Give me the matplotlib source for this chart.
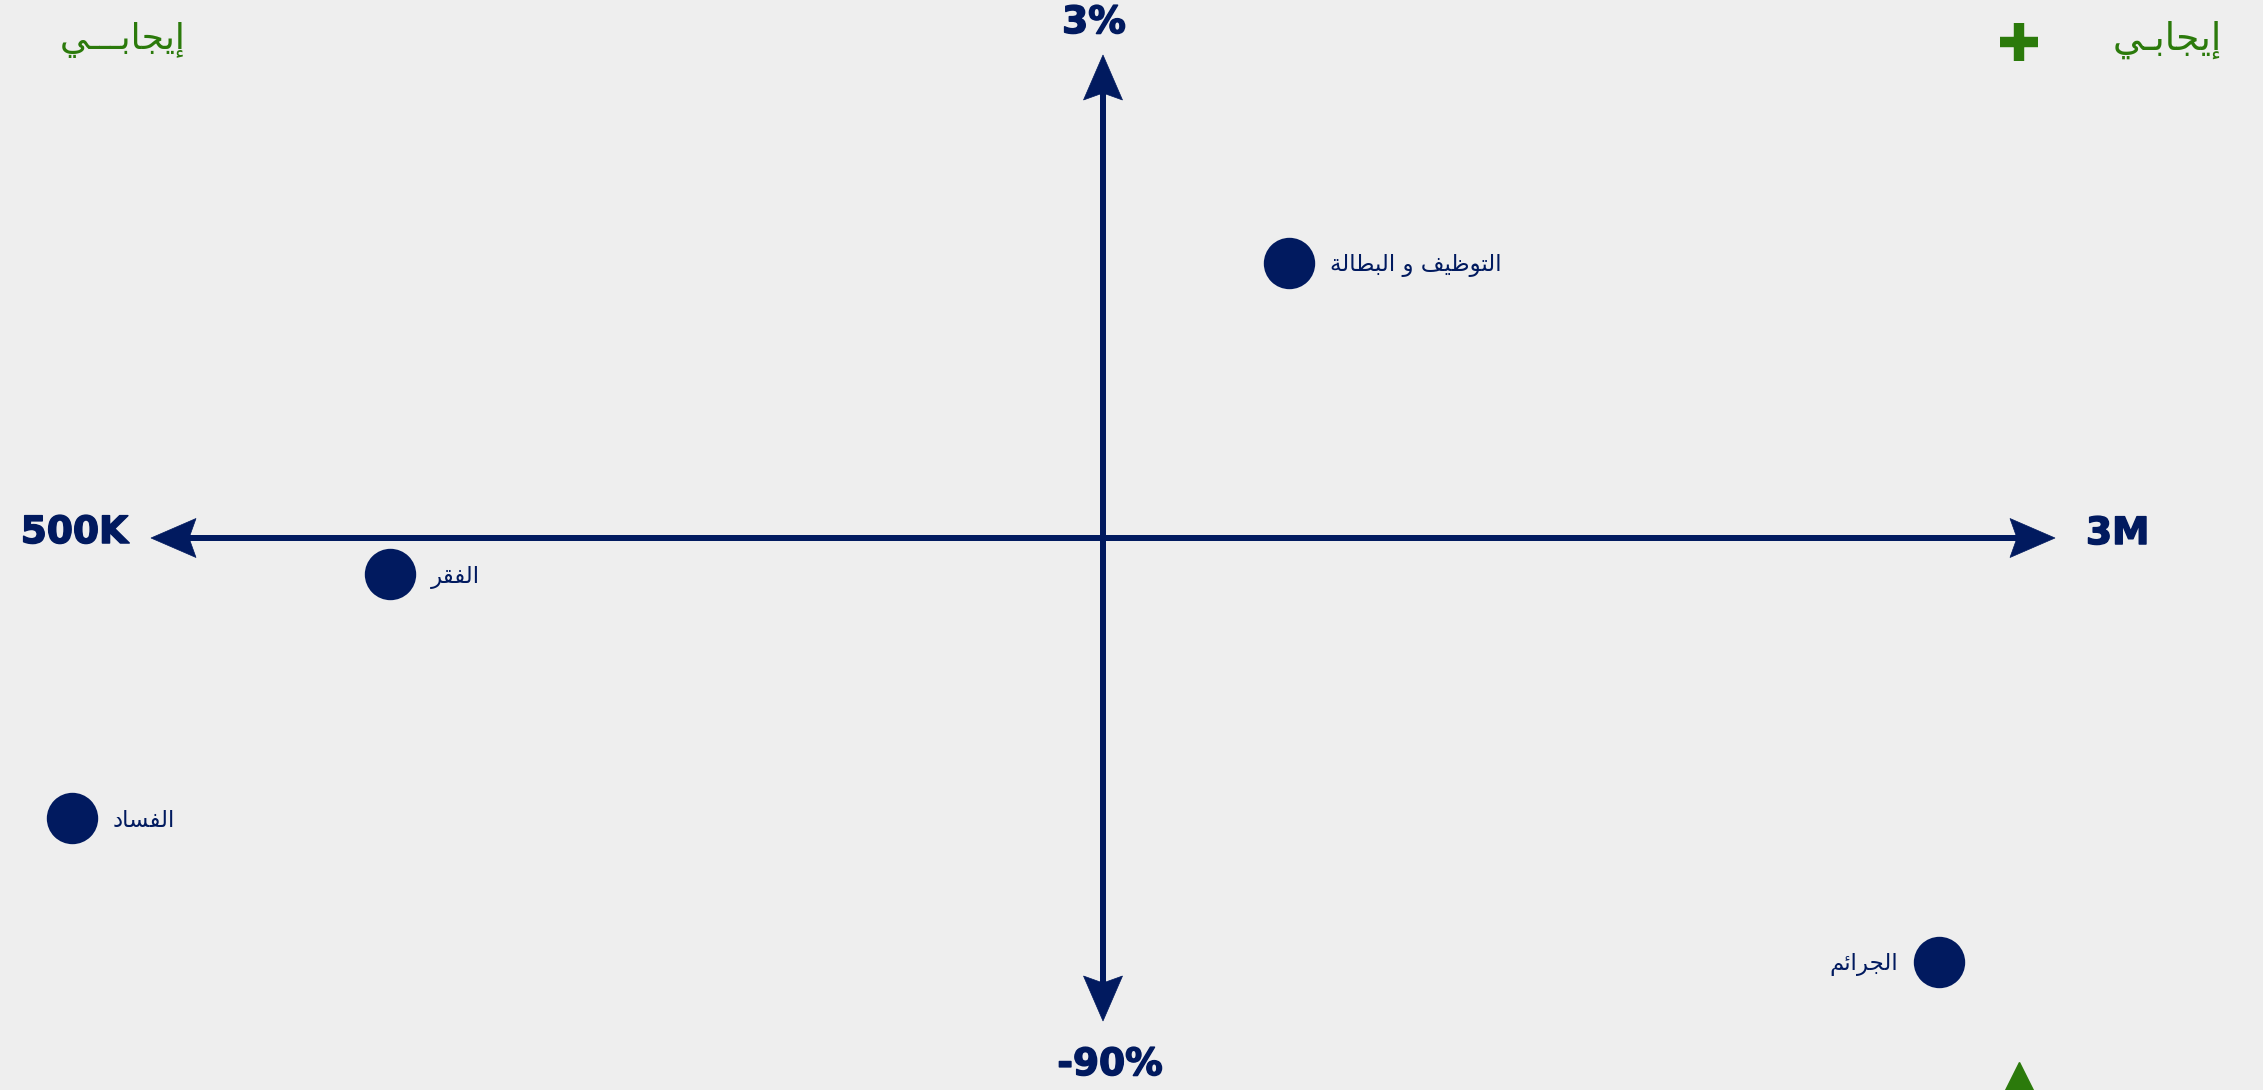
import matplotlib
matplotlib.use("Agg")
import matplotlib.pyplot as plt
from matplotlib.patches import Polygon
import matplotlib.patheffects as pe

# ---------------- data ----------------
topics = ["التوظيف و البطالة", "الفقر", "الفساد", "الجرائم"]
x_vals = [0.195, -0.749, -1.083, 0.878]     # normalised position on horizontal axis (-1 .. 1)
y_vals = [0.569, -0.075, -0.580, -0.878]    # normalised position on vertical axis (-1 .. 1)
label_side = ["right", "right", "right", "left"]
x_axis_labels = ["500K", "3M"]
y_axis_labels = ["-90%", "3%"]
corner_labels = ["إيجابـــي", "إيجابـي"]

NAVY = "#011a5f"
GREEN = "#2b7a0b"
BG = "#eeeeee"

# ------------- arabic shaping (presentation forms) -------------
AR = {
    '\u0625': ('\uFE87', '\uFE88', None, None),
    '\u0626': ('\uFE89', '\uFE8A', '\uFE8B', '\uFE8C'),
    '\u0627': ('\uFE8D', '\uFE8E', None, None),
    '\u0628': ('\uFE8F', '\uFE90', '\uFE91', '\uFE92'),
    '\u0629': ('\uFE93', '\uFE94', None, None),
    '\u062A': ('\uFE95', '\uFE96', '\uFE97', '\uFE98'),
    '\u062C': ('\uFE9D', '\uFE9E', '\uFE9F', '\uFEA0'),
    '\u062F': ('\uFEA9', '\uFEAA', None, None),
    '\u0631': ('\uFEAD', '\uFEAE', None, None),
    '\u0633': ('\uFEB1', '\uFEB2', '\uFEB3', '\uFEB4'),
    '\u0637': ('\uFEC1', '\uFEC2', '\uFEC3', '\uFEC4'),
    '\u0638': ('\uFEC5', '\uFEC6', '\uFEC7', '\uFEC8'),
    '\u0641': ('\uFED1', '\uFED2', '\uFED3', '\uFED4'),
    '\u0642': ('\uFED5', '\uFED6', '\uFED7', '\uFED8'),
    '\u0644': ('\uFEDD', '\uFEDE', '\uFEDF', '\uFEE0'),
    '\u0645': ('\uFEE1', '\uFEE2', '\uFEE3', '\uFEE4'),
    '\u0648': ('\uFEED', '\uFEEE', None, None),
    '\u064A': ('\uFEF1', '\uFEF2', '\uFEF3', '\uFEF4'),
}
TATWEEL = '\u0640'
LAMALEF = {'\u0627': ('\uFEFB', '\uFEFC'), '\u0625': ('\uFEF9', '\uFEFA'),
           '\u0623': ('\uFEF7', '\uFEF8'), '\u0622': ('\uFEF5', '\uFEF6')}


def shape(s):
    out = []
    i = 0
    prev_left = False
    while i < len(s):
        c = s[i]
        if c == TATWEEL:
            out.append(c)
            prev_left = True
            i += 1
            continue
        if c not in AR:
            out.append(c)
            prev_left = False
            i += 1
            continue
        nxt = s[i + 1] if i + 1 < len(s) else None
        if c == '\u0644' and nxt in LAMALEF:
            out.append(LAMALEF[nxt][1 if prev_left else 0])
            prev_left = False
            i += 2
            continue
        iso, fin, ini, med = AR[c]
        can_left = ini is not None and nxt is not None and (nxt in AR or nxt == TATWEEL)
        if prev_left and can_left:
            f = med
        elif prev_left:
            f = fin
        elif can_left:
            f = ini
        else:
            f = iso
        out.append(f)
        prev_left = ini is not None
        i += 1
    return ''.join(reversed(out))


# ---------------- figure ----------------
W, H, DPI = 2263, 1090, 100
fig = plt.figure(figsize=(W / DPI, H / DPI), dpi=DPI, facecolor=BG)
ax = fig.add_axes([0, 0, 1, 1])
ax.set_facecolor(BG)
ax.axis("off")

PX_X = 952.0   # pixels per unit along x
PX_Y = 483.0   # pixels per unit along y
CX, CY = 1103.0, 538.0
ax.set_xlim(-CX / PX_X, (W - CX) / PX_X)
ax.set_ylim(-(H - CY) / PX_Y, CY / PX_Y)

LW = 6 * 72 / DPI
HEAD_L, HEAD_W, NOTCH = 45, 19.5, 7


def arrow_head(tip_x, tip_y, dx, dy):
    px, py = -dy, dx
    pts_px = [(0, 0),
              (-dx * HEAD_L + px * HEAD_W, -dy * HEAD_L + py * HEAD_W),
              (-dx * (HEAD_L - NOTCH), -dy * (HEAD_L - NOTCH)),
              (-dx * HEAD_L - px * HEAD_W, -dy * HEAD_L - py * HEAD_W)]
    pts = [(tip_x + a / PX_X, tip_y + b / PX_Y) for a, b in pts_px]
    ax.add_patch(Polygon(pts, closed=True, facecolor=NAVY, edgecolor=NAVY, lw=0.5, zorder=3))


# horizontal axis
ax.plot([-1 + (HEAD_L - NOTCH) / PX_X, 1 - (HEAD_L - NOTCH) / PX_X], [0, 0],
        color=NAVY, lw=LW, solid_capstyle="butt", zorder=2)
arrow_head(-1, 0, -1, 0)
arrow_head(1, 0, 1, 0)
# vertical axis
ax.plot([0, 0], [-1 + (HEAD_L - NOTCH) / PX_Y, 1 - (HEAD_L - NOTCH) / PX_Y],
        color=NAVY, lw=LW, solid_capstyle="butt", zorder=2)
arrow_head(0, 1, 0, 1)
arrow_head(0, -1, 0, -1)

heavy = [pe.withStroke(linewidth=1.1, foreground=NAVY)]
axis_font = dict(color=NAVY, fontsize=27, fontweight="bold", family="DejaVu Sans",
                 path_effects=heavy)
ax.text(-1 - 23 / PX_X, 5 / PX_Y, x_axis_labels[0], ha="right", va="center", **axis_font)
ax.text(1 + 31 / PX_X, 4 / PX_Y, x_axis_labels[1], ha="left", va="center", **axis_font)
ax.text(-9 / PX_X, 1 + 32 / PX_Y, y_axis_labels[1], ha="center", va="center", **axis_font)
ax.text(7 / PX_X, -1 - 44 / PX_Y, y_axis_labels[0], ha="center", va="center", **axis_font)

# points
ax.scatter(x_vals, y_vals, s=37 ** 2, color=NAVY, zorder=4, linewidths=0)
for name, xv, yv, side in zip(topics, x_vals, y_vals, label_side):
    off = 29.5 if side == "right" else -29.5
    ax.annotate(shape(name), (xv, yv), xytext=(off, -2), textcoords="offset points",
                ha="left" if side == "right" else "right", va="center",
                color=NAVY, fontsize=16.5, family="DejaVu Sans", zorder=5)

# corner decorations
ax.text((60 - CX) / PX_X, (CY - 40) / PX_Y, shape(corner_labels[0]), ha="left", va="center",
        color=GREEN, fontsize=26, family="DejaVu Sans")
ax.text((2222 - CX) / PX_X, (CY - 40) / PX_Y, shape(corner_labels[1]), ha="right", va="center",
        color=GREEN, fontsize=27, family="DejaVu Sans")
ax.plot([(2019 - CX) / PX_X], [(CY - 42) / PX_Y], marker="+", markersize=27,
        markeredgewidth=7.5, color=GREEN)
ax.plot([(2019 - CX) / PX_X], [(CY - 1090) / PX_Y], marker="^", markersize=40,
        color=GREEN, clip_on=True)

fig.savefig("out.png", dpi=DPI, facecolor=BG)
